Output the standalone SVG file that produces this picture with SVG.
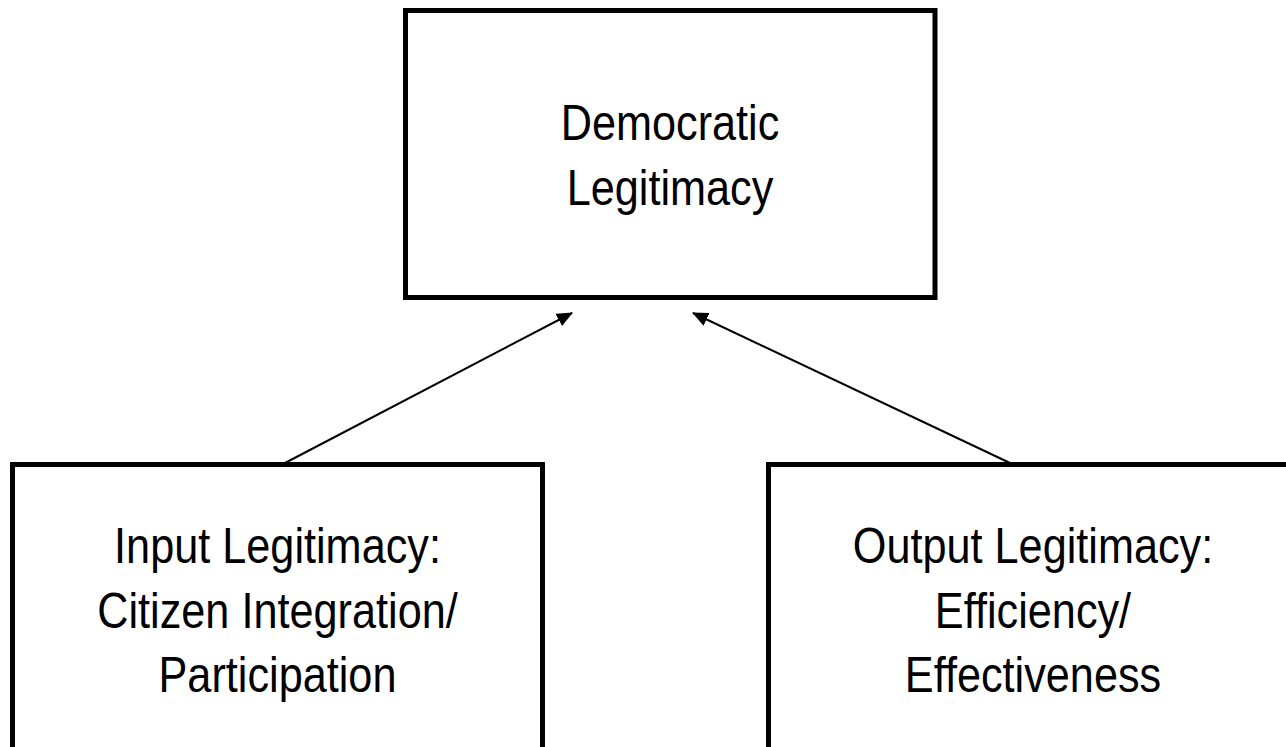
<svg xmlns="http://www.w3.org/2000/svg" width="1286" height="747" viewBox="0 0 1286 747">
<style>
.box{fill:#fff;stroke:#000;stroke-width:5}
.lbl{font-family:"Liberation Sans Narrow","Arial Narrow","Liberation Sans",Arial,sans-serif;font-size:50px;fill:#000;text-anchor:middle}
.edge{stroke:#000;stroke-width:2;fill:none}
</style>
<defs>
<marker id="arr" viewBox="0 0 16 14" refX="15" refY="7" markerWidth="16" markerHeight="14" markerUnits="userSpaceOnUse" orient="auto">
<path d="M0,0 L16,7 L0,14 z" fill="#000"/>
</marker>
</defs>
<rect width="1286" height="747" fill="#fff"/>
<g id="democratic-legitimacy">
<rect class="box" x="405.5" y="10.5" width="529.5" height="287"/>
<text class="lbl" transform="translate(670 140) scale(0.865 1)">Democratic</text>
<text class="lbl" transform="translate(670 205) scale(0.865 1)">Legitimacy</text>
</g>
<g id="input-legitimacy">
<rect class="box" x="12.5" y="464.5" width="530" height="300"/>
<text class="lbl" transform="translate(277.5 563) scale(0.865 1)">Input Legitimacy:</text>
<text class="lbl" transform="translate(277.5 628) scale(0.865 1)">Citizen Integration/</text>
<text class="lbl" transform="translate(277.5 692) scale(0.865 1)">Participation</text>
</g>
<g id="output-legitimacy">
<rect class="box" x="768.5" y="464.5" width="530" height="300"/>
<text class="lbl" transform="translate(1033 563) scale(0.865 1)">Output Legitimacy:</text>
<text class="lbl" transform="translate(1033 628) scale(0.865 1)">Efficiency/</text>
<text class="lbl" transform="translate(1033 692) scale(0.865 1)">Effectiveness</text>
</g>
<g id="connectors">
<line class="edge" x1="285" y1="463" x2="572" y2="313" marker-end="url(#arr)"/>
<line class="edge" x1="1010" y1="463" x2="693" y2="313" marker-end="url(#arr)"/>
</g>
</svg>
